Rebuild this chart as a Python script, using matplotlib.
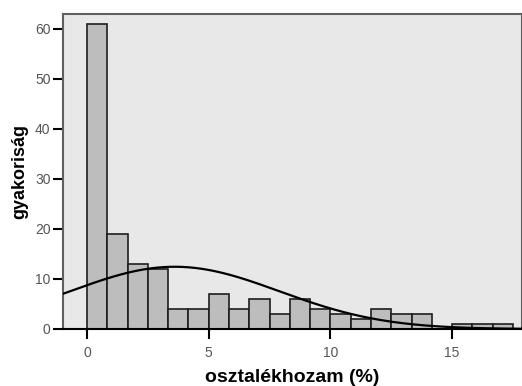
import numpy as np
import matplotlib
matplotlib.use('Agg')
import matplotlib.pyplot as plt

# histogram counts (21 bins from 0 to 17.5)
bin_start = 0.0
bin_end = 17.5
counts = [61, 19, 13, 12, 4, 4, 7, 4, 6, 3, 6, 4, 3, 2, 4, 3, 3, 0, 1, 1, 1]

# fitted normal curve parameters
curve_mean = 3.6
curve_sd = 4.3

x_ticks = [0, 5, 10, 15]
y_ticks = [0, 10, 20, 30, 40, 50, 60]

plt.rcParams['font.family'] = ['Liberation Sans', 'DejaVu Sans']

fig = plt.figure(figsize=(5.22, 3.86), dpi=100)
ax = fig.add_axes([63 / 522, 57 / 386, 459 / 522, 315 / 386])
ax.set_facecolor('#e8e8e8')

edges = np.linspace(bin_start, bin_end, len(counts) + 1)
width = edges[1] - edges[0]
ax.bar(edges[:-1], counts, width=width, align='edge', color='#bdbdbd',
       edgecolor='#1e1e1e', linewidth=1.2, zorder=2)

# normal curve scaled to the histogram
n = sum(counts)
xs = np.linspace(-1.0, 18.0, 400)
ys = n * width / (curve_sd * np.sqrt(2 * np.pi)) * np.exp(-(xs - curve_mean) ** 2 / (2 * curve_sd ** 2))
ax.plot(xs, ys, color='black', linewidth=1.6, zorder=3)

ax.set_xlim(-0.99, 17.87)
ax.set_ylim(0, 63)
ax.set_xticks(x_ticks)
ax.set_yticks(y_ticks)

ax.tick_params(axis='both', direction='out', length=7, width=1.5, color='black',
               labelsize=10, labelcolor='#555555')
ax.tick_params(axis='x', pad=5)
ax.tick_params(axis='y', pad=2)

for side in ['left', 'top', 'right']:
    ax.spines[side].set_color('#606060')
    ax.spines[side].set_linewidth(1.5)
ax.spines['bottom'].set_color('black')
ax.spines['bottom'].set_linewidth(1.5)

ax.set_xlabel('osztalékhozam (%)', fontsize=14, fontweight='bold', labelpad=7)
ax.set_ylabel('gyakoriság', fontsize=13, fontweight='bold', labelpad=5)

plt.savefig('out.png', dpi=100)
